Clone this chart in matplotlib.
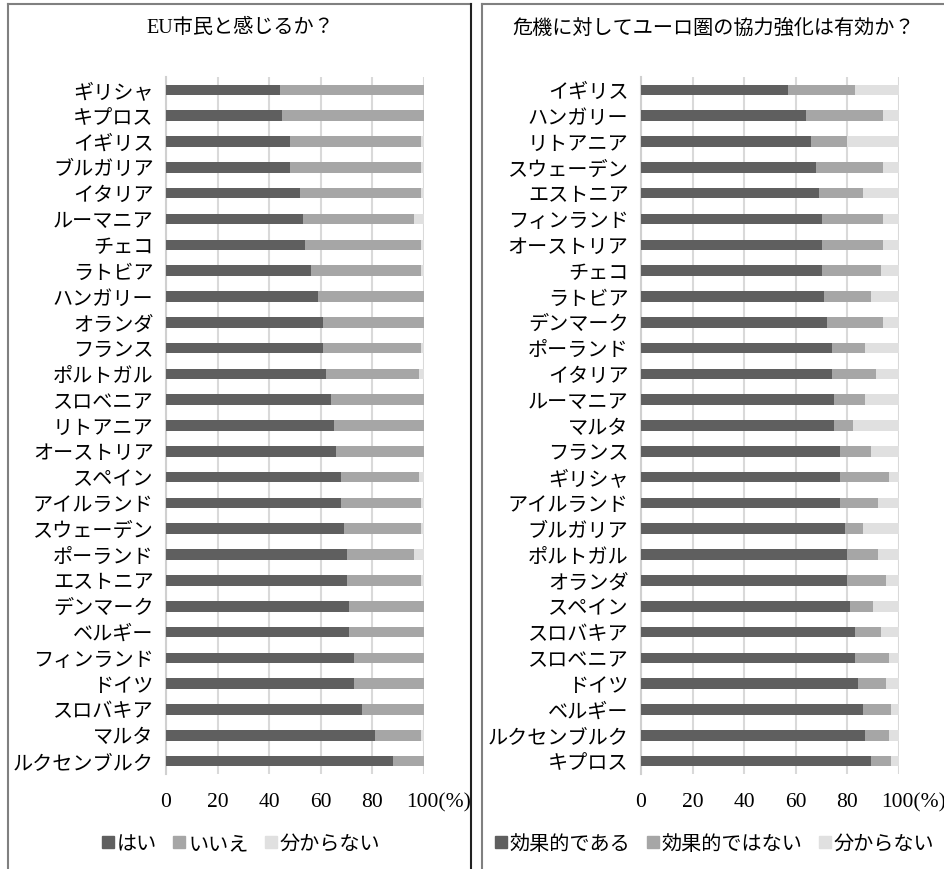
"""
Two stacked horizontal bar panels: EU citizen feeling / euro area cooperation.
"""
import matplotlib
matplotlib.use("Agg")
import matplotlib.pyplot as plt
from matplotlib.lines import Line2D
from matplotlib.transforms import blended_transform_factory

plt.rcParams["font.family"] = ["Liberation Serif", "Noto Sans CJK JP"]
plt.rcParams["font.size"] = 14.5

# --- left panel data (top to bottom) ---
left_title = "EU市民と感じるか？"
left_countries = ["ギリシャ", "キプロス", "イギリス", "ブルガリア", "イタリア", "ルーマニア",
                  "チェコ", "ラトビア", "ハンガリー", "オランダ", "フランス", "ポルトガル",
                  "スロベニア", "リトアニア", "オーストリア", "スペイン", "アイルランド",
                  "スウェーデン", "ポーランド", "エストニア", "デンマーク", "ベルギー",
                  "フィンランド", "ドイツ", "スロバキア", "マルタ", "ルクセンブルク"]
left_yes = [44, 45, 48, 48, 52, 53, 54, 56, 59, 61, 61, 62, 64, 65, 66, 68, 68, 69,
            70, 70, 71, 71, 73, 73, 76, 81, 88]
left_no = [56, 55, 51, 51, 47, 43, 45, 43, 41, 39, 38, 36, 36, 35, 34, 30, 31, 30,
           26, 29, 29, 29, 27, 27, 24, 18, 12]
left_dk = [0, 0, 1, 1, 1, 4, 1, 1, 0, 0, 1, 2, 0, 0, 0, 2, 1, 1,
           4, 1, 0, 0, 0, 0, 0, 1, 0]
left_legend = ["はい", "いいえ", "分からない"]

# --- right panel data (top to bottom) ---
right_title = "危機に対してユーロ圏の協力強化は有効か？"
right_countries = ["イギリス", "ハンガリー", "リトアニア", "スウェーデン", "エストニア",
                   "フィンランド", "オーストリア", "チェコ", "ラトビア", "デンマーク",
                   "ポーランド", "イタリア", "ルーマニア", "マルタ", "フランス", "ギリシャ",
                   "アイルランド", "ブルガリア", "ポルトガル", "オランダ", "スペイン",
                   "スロバキア", "スロベニア", "ドイツ", "ベルギー", "ルクセンブルク", "キプロス"]
right_yes = [57, 64, 66, 68, 69, 70, 70, 70, 71, 72, 74, 74, 75, 75, 77, 77, 77, 79,
             80, 80, 81, 83, 83, 84, 86, 87, 89]
right_no = [26, 30, 14, 26, 17, 24, 24, 23, 18, 22, 13, 17, 12, 7, 12, 19, 15, 7,
            12, 15, 9, 10, 13, 11, 11, 9, 8]
right_dk = [17, 6, 20, 6, 14, 6, 6, 7, 11, 6, 13, 9, 13, 18, 11, 4, 8, 14,
            8, 5, 10, 7, 4, 5, 3, 4, 3]
right_legend = ["効果的である", "効果的ではない", "分からない"]

ticks = [0, 20, 40, 60, 80, 100]
colors = ["#5f5f5f", "#a6a6a6", "#e0e0e0"]
XPAD = 13

fig = plt.figure(figsize=(9.45, 8.7), dpi=100)


def draw_panel(left, countries, yes, no, dk, title, legend_labels, center_x):
    ax = fig.add_axes([left, 0.1092, 0.2730, 0.8011])
    y = range(len(countries))
    ax.barh(y, yes, height=0.41, color=colors[0], zorder=3)
    ax.barh(y, no, left=yes, height=0.41, color=colors[1], zorder=3)
    starts = [a + b for a, b in zip(yes, no)]
    ax.barh(y, dk, left=starts, height=0.41, color=colors[2], zorder=3)

    ax.set_xlim(0, 100)
    ax.set_ylim(-0.5, len(countries) - 0.5)
    ax.invert_yaxis()
    ax.set_yticks(list(y))
    ax.set_yticklabels(countries)
    ax.set_xticks(ticks)
    # last tick written separately together with the unit
    ax.set_xticklabels([str(t) for t in ticks[:-1]] + [""], fontsize=15.5)
    ax.tick_params(length=0, pad=9)
    ax.tick_params(axis="x", pad=XPAD)
    ax.xaxis.grid(True, color="#d9d9d9", linewidth=1.5, zorder=0)
    for s in ["top", "right", "bottom"]:
        ax.spines[s].set_visible(False)
    ax.spines["left"].set_color("#d0d0d0")
    ax.spines["left"].set_linewidth(1.5)
    trans = blended_transform_factory(ax.transData, ax.transAxes)
    ax.annotate(f"{ticks[-1]}(%)", xy=(ticks[-1] - 7.0, 0), xycoords=trans,
                xytext=(0, -XPAD), textcoords="offset points",
                ha="left", va="top", fontsize=15.5)

    fig.text(center_x, 0.967, title, ha="center", va="center")
    handles = [Line2D([], [], marker="s", linestyle="none", markersize=8,
                      color=c) for c in colors]
    fig.legend(handles, legend_labels, loc="center", bbox_to_anchor=(center_x, 0.028),
               ncol=3, frameon=False, handletextpad=0.05, columnspacing=0.7,
               handlelength=0.8, borderpad=0)


draw_panel(0.1757, left_countries, left_yes, left_no, left_dk, left_title,
           left_legend, 0.254)
draw_panel(0.6783, right_countries, right_yes, right_no, right_dk, right_title,
           right_legend, 0.755)


# panel frames (open at the bottom, right panel runs off the page)
def frame_line(xs, ys, color):
    fig.add_artist(Line2D(xs, ys, transform=fig.transFigure, color=color, linewidth=1.5))


top = 1 - 5 / 870
frame_line([8 / 945, 8 / 945], [0, top], "#808080")
frame_line([8 / 945, 471 / 945], [top, top], "#808080")
frame_line([471 / 945, 471 / 945], [0, top], "#222222")
frame_line([482 / 945, 482 / 945], [0, top], "#808080")
frame_line([482 / 945, 1.0], [top, top], "#808080")

fig.savefig("out.png", dpi=100)
